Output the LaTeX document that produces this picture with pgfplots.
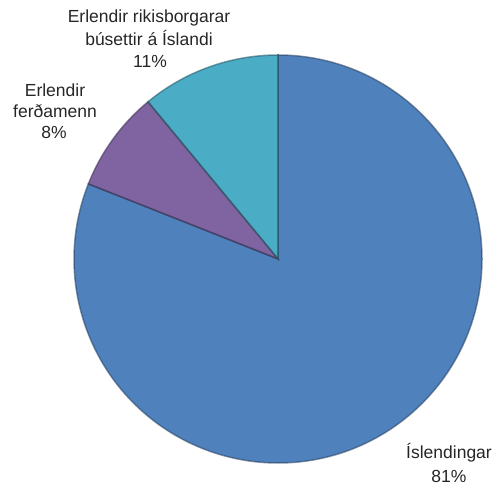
\documentclass[border=0pt]{standalone}
\usepackage{pgfplots}
\pgfplotsset{compat=1.18}
\usepackage{pgfplotstable}
\usepackage{fontspec}
\setmainfont{Liberation Sans}
\definecolor{cBlue}{HTML}{4F81BD}
\definecolor{cPurple}{HTML}{8064A2}
\definecolor{cTeal}{HTML}{4BACC6}
\definecolor{cText}{HTML}{262626}

\pgfplotstableread{
name value
Islendingar 81
Ferdamenn 8
Rikisborgarar 11
}\piedata

\begin{document}%
\begin{tikzpicture}
\pgfplotstablegetelem{0}{value}\of\piedata \let\vA\pgfplotsretval
\pgfplotstablegetelem{1}{value}\of\piedata \let\vB\pgfplotsretval
\pgfplotstablegetelem{2}{value}\of\piedata \let\vC\pgfplotsretval
\pgfmathsetmacro\aStart{90}
\pgfmathsetmacro\aA{90-3.6*\vA}
\pgfmathsetmacro\aB{\aA-3.6*\vB}
\pgfmathsetmacro\aC{\aB-3.6*\vC}
\begin{axis}[
  x=1bp, y=1bp, xmin=0, xmax=493, ymin=0, ymax=491,
  hide axis, scale only axis, clip=false, disabledatascaling,
]
\coordinate (ll) at (axis cs:0,0);
\coordinate (ur) at (axis cs:493,491);
% slices
\fill[cBlue] (axis cs:278,232) -- ++(\aStart:204bp) arc[start angle=\aStart, end angle=\aA, radius=204bp] -- cycle;
\fill[cPurple] (axis cs:278,232) -- ++(\aA:204bp) arc[start angle=\aA, end angle=\aB, radius=204bp] -- cycle;
\fill[cTeal] (axis cs:278,232) -- ++(\aB:204bp) arc[start angle=\aB, end angle=\aC, radius=204bp] -- cycle;
% edges
\draw[cBlue!50!black, line width=1.5bp, opacity=0.55] (axis cs:278,232) -- ++(\aStart:204bp) arc[start angle=\aStart, end angle=\aA, radius=204bp] -- cycle;
\draw[cPurple!50!black, line width=1.5bp, opacity=0.55] (axis cs:278,232) -- ++(\aA:204bp) arc[start angle=\aA, end angle=\aB, radius=204bp] -- cycle;
\draw[cTeal!50!black, line width=1.5bp, opacity=0.55] (axis cs:278,232) -- ++(\aB:204bp) arc[start angle=\aB, end angle=\aC, radius=204bp] -- cycle;
% labels
\begin{scope}[every node/.style={anchor=base, inner sep=0pt, text=cText, font=\fontsize{17.5bp}{20bp}\selectfont}]
\node at (axis cs:149,468) {Erlendir rikisborgarar};
\node at (axis cs:149,445) {búsettir á Íslandi};
\node at (axis cs:150,423) {11\%};
\node at (axis cs:55,394) {Erlendir};
\node at (axis cs:55,373) {ferðamenn};
\node at (axis cs:54,352) {8\%};
\node at (axis cs:449,32) {Íslendingar};
\node at (axis cs:449,8) {81\%};
\end{scope}
\end{axis}
\pgfresetboundingbox
\useasboundingbox (ll) rectangle (ur);
\end{tikzpicture}%
\end{document}
